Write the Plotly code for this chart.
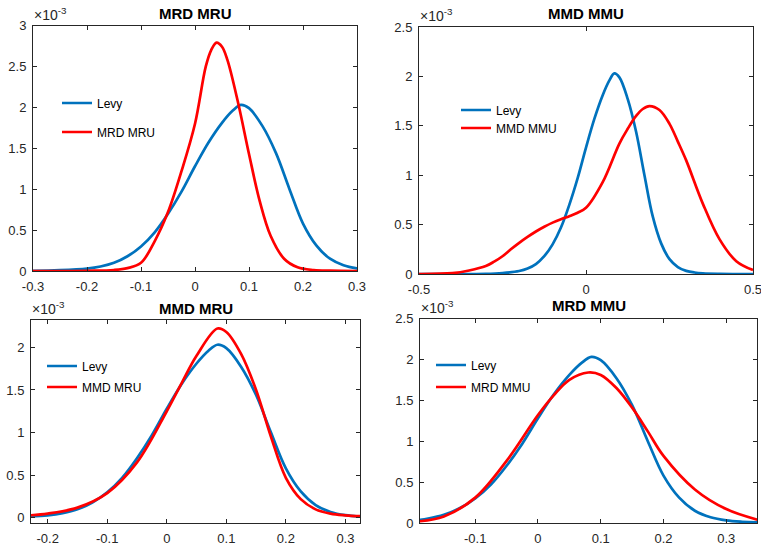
import plotly.graph_objects as go

W, H = 761, 549
BLUE = "#0072BD"
RED = "#FF0000"
AXC = "#262626"
FONT = "Liberation Sans, Arial, Helvetica, sans-serif"

# Kernel density estimates, values in units of 1e-3
levy_x = [-0.5, -0.4, -0.3, -0.25, -0.2, -0.175, -0.15, -0.125, -0.1, -0.075, -0.05,
          -0.025, 0.0, 0.025, 0.05, 0.07, 0.085, 0.1, 0.125, 0.15, 0.175, 0.2, 0.225,
          0.25, 0.275, 0.3, 0.325, 0.35, 0.4, 0.5]
levy_y = [0.0, 0.0, 0.002, 0.01, 0.03, 0.055, 0.10, 0.18, 0.30, 0.47, 0.70,
          0.97, 1.28, 1.57, 1.81, 1.96, 2.03, 1.99, 1.77, 1.44, 1.00, 0.58, 0.31,
          0.15, 0.07, 0.032, 0.015, 0.007, 0.002, 0.0]

mrd_mru_x = [-0.3, -0.2, -0.15, -0.125, -0.1, -0.075, -0.05, -0.025, 0.0, 0.02, 0.03,
             0.04, 0.05, 0.06, 0.08, 0.1, 0.12, 0.14, 0.165, 0.19, 0.22, 0.25, 0.3]
mrd_mru_y = [0.0, 0.003, 0.012, 0.035, 0.10, 0.36, 0.72, 1.22, 1.80, 2.50, 2.70,
             2.79, 2.74, 2.58, 2.05, 1.43, 0.85, 0.43, 0.15, 0.045, 0.012, 0.004, 0.0]

mmd_mmu_x = [-0.5, -0.4, -0.35, -0.3, -0.275, -0.25, -0.225, -0.2, -0.175, -0.15,
             -0.125, -0.1, -0.075, -0.05, -0.025, 0.0, 0.05, 0.1, 0.125, 0.15, 0.17,
             0.19, 0.22, 0.25, 0.275, 0.3, 0.35, 0.4, 0.45, 0.5]
mmd_mmu_y = [0.0, 0.008, 0.035, 0.08, 0.125, 0.18, 0.25, 0.315, 0.375, 0.43,
             0.478, 0.52, 0.555, 0.585, 0.62, 0.67, 0.93, 1.32, 1.47, 1.60, 1.67,
             1.70, 1.66, 1.52, 1.34, 1.15, 0.71, 0.35, 0.13, 0.04]

mmd_mru_x = [-0.23, -0.2, -0.15, -0.1, -0.05, 0.0, 0.025, 0.05, 0.085, 0.1, 0.125,
             0.15, 0.175, 0.2, 0.225, 0.25, 0.275, 0.3, 0.325]
mmd_mru_y = [0.03, 0.05, 0.12, 0.29, 0.65, 1.25, 1.58, 1.90, 2.22, 2.18, 1.92,
             1.50, 0.95, 0.47, 0.22, 0.10, 0.05, 0.03, 0.02]

mrd_mmu_x = [-0.19, -0.15, -0.1, -0.05, 0.0, 0.025, 0.05, 0.08, 0.1, 0.125, 0.15,
             0.175, 0.2, 0.25, 0.3, 0.35]
mrd_mmu_y = [0.02, 0.08, 0.31, 0.76, 1.32, 1.56, 1.75, 1.84, 1.81, 1.65, 1.41,
             1.12, 0.82, 0.41, 0.17, 0.04]

# Panel definitions: title, red series, axis limits, ticks, pixel box (l, r, top, bottom)
panels = [
    dict(title="MRD MRU", rx=mrd_mru_x, ry=mrd_mru_y,
         xr=[-0.3, 0.3], yr=[0, 3],
         xt=[-0.3, -0.2, -0.1, 0, 0.1, 0.2, 0.3],
         xl=["-0.3", "-0.2", "-0.1", "0", "0.1", "0.2", "0.3"],
         yt=[0, 0.5, 1, 1.5, 2, 2.5, 3],
         yl=["0", "0.5", "1", "1.5", "2", "2.5", "3"],
         box=(33, 357, 25.5, 271), title_y=14,
         leg=[(57, 103), (57, 132)]),
    dict(title="MMD MMU", rx=mmd_mmu_x, ry=mmd_mmu_y,
         xr=[-0.5, 0.5], yr=[0, 2.5],
         xt=[-0.5, 0, 0.5], xl=["-0.5", "0", "0.5"],
         yt=[0, 0.5, 1, 1.5, 2, 2.5], yl=["0", "0.5", "1", "1.5", "2", "2.5"],
         box=(419, 753, 27, 274), title_y=14,
         leg=[(456, 110), (456, 128)]),
    dict(title="MMD MRU", rx=mmd_mru_x, ry=mmd_mru_y,
         xr=[-0.228, 0.3245], yr=[-0.06, 2.32],
         xt=[-0.2, -0.1, 0, 0.1, 0.2, 0.3],
         xl=["-0.2", "-0.1", "0", "0.1", "0.2", "0.3"],
         yt=[0, 0.5, 1, 1.5, 2], yl=["0", "0.5", "1", "1.5", "2"],
         box=(31, 360, 320, 523), title_y=308,
         leg=[(42, 366), (42, 387)]),
    dict(title="MRD MMU", rx=mrd_mmu_x, ry=mrd_mmu_y,
         xr=[-0.188, 0.349], yr=[0, 2.5],
         xt=[-0.1, 0, 0.1, 0.2, 0.3], xl=["-0.1", "0", "0.1", "0.2", "0.3"],
         yt=[0, 0.5, 1, 1.5, 2, 2.5], yl=["0", "0.5", "1", "1.5", "2", "2.5"],
         box=(420, 757, 318.5, 523), title_y=305,
         leg=[(431, 365), (431, 387)]),
]

fig = go.Figure()
layout = dict(
    width=W, height=H, margin=dict(l=0, r=0, t=0, b=0, autoexpand=False),
    paper_bgcolor="white", plot_bgcolor="white",
    font=dict(family=FONT, color=AXC, size=13),
    annotations=[],
)

leg_n = 0
for i, p in enumerate(panels, start=1):
    sfx = "" if i == 1 else str(i)
    l, r, t, b = p["box"]
    ax_common = dict(showline=True, linecolor=AXC, linewidth=1, mirror="ticks",
                     ticks="inside", ticklen=4, tickcolor=AXC, tickwidth=1,
                     showgrid=False, zeroline=False, automargin=False,
                     ticklabeloverflow="allow",
                     tickfont=dict(family=FONT, size=13, color=AXC))
    layout["xaxis" + sfx] = dict(ax_common, domain=[l / W, r / W], range=p["xr"],
                                 tickvals=p["xt"], ticktext=p["xl"],
                                 ticklabelstandoff=3, anchor="y" + sfx)
    layout["yaxis" + sfx] = dict(ax_common, domain=[1 - b / H, 1 - t / H], range=p["yr"],
                                 tickvals=p["yt"], ticktext=p["yl"],
                                 ticklabelstandoff=3, anchor="x" + sfx)

    names = ["Levy", p["title"]]
    xs = [levy_x, p["rx"]]
    ys = [levy_y, p["ry"]]
    cols = [BLUE, RED]
    for k in range(2):
        leg_n += 1
        lname = "legend" if leg_n == 1 else "legend%d" % leg_n
        fig.add_trace(go.Scatter(
            x=xs[k], y=ys[k], mode="lines", name=names[k],
            line=dict(color=cols[k], width=2.7, shape="spline", smoothing=1.0),
            xaxis="x" + sfx, yaxis="y" + sfx, legend=lname, showlegend=True,
        ))
        lx, ly = p["leg"][k]
        layout[lname] = dict(x=lx / W, y=1 - ly / H, xanchor="left", yanchor="middle",
                             bgcolor="rgba(0,0,0,0)", borderwidth=0,
                             font=dict(family=FONT, size=12, color="#000000"),
                             itemwidth=30)

    cx = (l + r) / 2
    layout["annotations"].append(dict(
        text="<b>%s</b>" % p["title"], x=cx / W, y=1 - p["title_y"] / H,
        xref="paper", yref="paper", xanchor="center", yanchor="middle",
        showarrow=False, font=dict(family=FONT, size=15, color="#000000")))
    layout["annotations"].append(dict(
        text="\u00d710<sup>-3</sup>", x=(l - 1) / W, y=1 - (t - 1) / H,
        xref="paper", yref="paper", xanchor="left", yanchor="bottom",
        showarrow=False, font=dict(family=FONT, size=14, color=AXC)))

fig.update_layout(**layout)
fig.write_html("out.html")
